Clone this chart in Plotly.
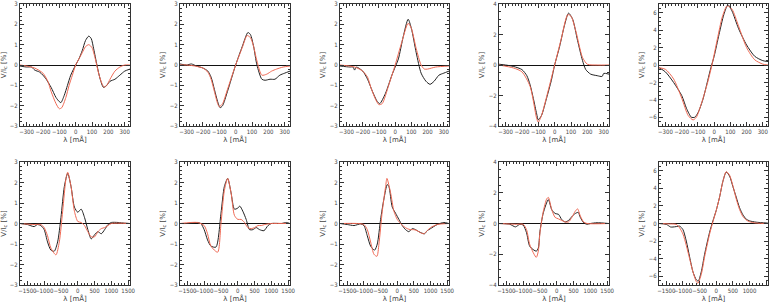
import plotly.graph_objects as go

# ---------------- data ----------------
# Row 1 (x in mA, range about +-335)
p1_obs_x = [-340,-300,-270,-250,-220,-200,-180,-150,-120,-100,-90,-70,-50,-30,0,20,40,60,80,95,110,130,150,170,190,210,240,270,300,332]
p1_obs_y = [-0.05,-0.1,-0.1,-0.25,-0.35,-0.5,-0.7,-1.1,-1.6,-1.8,-1.85,-1.5,-1.0,-0.5,0.0,0.3,0.7,1.2,1.42,1.3,0.8,0.0,-0.7,-1.1,-1.0,-0.8,-0.7,-0.5,-0.3,-0.2]
p1_mod_x = [-340,-300,-250,-200,-170,-150,-120,-100,-85,-60,-40,-20,0,20,40,60,80,100,120,140,160,175,190,210,240,270,300,332]
p1_mod_y = [0.0,-0.05,-0.15,-0.4,-0.8,-1.3,-1.9,-2.15,-2.1,-1.6,-1.0,-0.5,0.0,0.3,0.6,0.9,1.0,0.85,0.3,-0.4,-0.9,-1.1,-1.0,-0.7,-0.3,-0.1,0.0,0.0]

p2_obs_x = [-340,-300,-270,-240,-200,-170,-150,-130,-110,-95,-80,-50,0,40,75,90,110,130,160,180,210,240,270,300,332]
p2_obs_y = [0.05,0.0,0.05,-0.05,-0.15,-0.3,-0.6,-1.2,-1.8,-2.1,-2.0,-1.3,0.0,0.9,1.6,1.5,0.9,0.0,-0.7,-0.75,-0.7,-0.7,-0.5,-0.4,-0.3]
p2_mod_x = [-340,-300,-250,-200,-170,-150,-130,-110,-100,-80,-50,0,40,70,90,110,130,160,190,220,250,290,332]
p2_mod_y = [0.0,0.0,-0.05,-0.15,-0.35,-0.7,-1.3,-1.9,-2.05,-1.9,-1.2,0.0,0.85,1.45,1.35,0.9,0.2,-0.5,-0.45,-0.3,-0.2,-0.1,-0.05]

p3_obs_x = [-340,-280,-260,-250,-240,-200,-170,-140,-110,-95,-60,-20,0,20,50,80,100,130,160,190,215,240,270,300,332]
p3_obs_y = [-0.05,-0.1,-0.1,-0.25,-0.1,-0.3,-0.7,-1.3,-1.8,-1.9,-1.4,-0.5,-0.1,0.3,1.4,2.25,1.8,0.6,-0.4,-0.8,-0.95,-0.8,-0.5,-0.4,-0.3]
p3_mod_x = [-340,-250,-200,-170,-150,-120,-100,-80,-40,0,40,80,100,130,160,180,200,250,332]
p3_mod_y = [0.0,-0.1,-0.3,-0.6,-1.1,-1.7,-1.95,-1.9,-1.0,0.0,1.1,2.05,1.8,0.8,0.0,-0.2,-0.2,-0.1,-0.05]

p4_obs_x = [-340,-300,-250,-200,-170,-150,-130,-110,-100,-80,-50,-20,0,30,60,85,110,140,170,190,220,260,290,300,332]
p4_obs_y = [0.05,0.0,-0.1,-0.3,-0.7,-1.3,-2.2,-3.2,-3.6,-3.3,-2.2,-1.0,0.0,1.2,2.6,3.4,3.0,1.6,0.3,-0.3,-0.6,-0.7,-0.75,-0.55,-0.6]
p4_mod_x = [-340,-250,-200,-150,-110,-100,-80,-40,0,40,80,100,130,170,200,260,332]
p4_mod_y = [0.0,-0.2,-0.45,-1.4,-3.5,-3.75,-3.3,-1.7,0.0,1.7,3.3,3.2,2.2,0.5,0.05,0.0,0.0]

p5_obs_x = [-340,-300,-250,-200,-170,-140,-120,-100,-70,-40,-20,0,30,60,85,110,150,200,250,300,332]
p5_obs_y = [-0.3,-0.8,-2.0,-3.5,-5.0,-6.0,-6.0,-5.5,-4.0,-1.8,-0.3,1.0,3.5,5.8,6.9,6.2,4.2,2.3,1.0,0.5,0.4]
p5_mod_x = [-340,-300,-250,-200,-160,-130,-110,-80,-40,-10,20,50,80,110,150,200,250,300,332]
p5_mod_y = [-0.3,-0.5,-1.6,-3.8,-5.8,-6.3,-6.0,-4.5,-2.0,0.3,3.0,5.5,6.8,6.4,4.5,2.0,0.6,0.1,0.0]

# Row 2 (x in mA, range about -1720..1550)
p6_obs_x = [-1720,-1500,-1300,-1200,-1100,-1000,-900,-800,-700,-600,-500,-400,-300,-200,-100,0,100,200,300,400,500,600,700,800,900,1000,1200,1300,1550]
p6_obs_y = [0.0,-0.05,-0.15,-0.05,-0.1,-0.3,-0.9,-1.3,-1.35,-0.9,0.3,1.8,2.45,1.8,0.8,0.55,0.7,0.3,-0.3,-0.75,-0.55,-0.4,-0.5,-0.3,-0.05,0.05,0.05,0.03,0.0]
p6_mod_x = [-1720,-1300,-1100,-1000,-900,-800,-650,-550,-450,-350,-300,-200,-100,0,100,200,300,400,500,600,700,800,900,1000,1550]
p6_mod_y = [0.0,-0.05,-0.05,-0.2,-0.6,-1.2,-1.53,-0.9,0.6,2.2,2.5,1.8,0.6,0.1,0.05,-0.1,-0.4,-0.65,-0.65,-0.4,-0.25,-0.2,-0.1,0.0,0.0]

p7_obs_x = [-1720,-1500,-1200,-1100,-1000,-900,-800,-650,-500,-400,-300,-200,-100,0,60,150,250,350,450,550,650,780,900,1000,1300,1450,1550]
p7_obs_y = [0.0,0.0,0.05,0.0,-0.3,-0.8,-1.1,-1.15,0.5,1.8,2.2,1.5,0.7,0.75,0.85,0.6,0.2,-0.3,-0.3,-0.2,-0.3,-0.35,-0.1,0.0,0.0,0.05,0.0]
p7_mod_x = [-1720,-1200,-1000,-900,-800,-600,-500,-400,-300,-200,-100,0,100,200,300,400,500,600,700,800,1000,1550]
p7_mod_y = [0.0,0.05,-0.1,-0.5,-1.1,-1.4,0.0,1.6,2.2,1.5,0.4,0.2,0.2,0.05,-0.2,-0.25,-0.2,-0.1,-0.1,-0.05,0.0,0.0]

p8_obs_x = [-1720,-1500,-1300,-1100,-1000,-900,-800,-680,-600,-500,-400,-300,-250,-150,-50,50,150,250,350,450,550,650,820,900,1000,1200,1400,1550]
p8_obs_y = [0.0,-0.05,-0.1,-0.02,-0.1,-0.6,-1.1,-1.3,-1.0,0.2,1.2,1.9,1.8,0.8,0.5,0.2,-0.1,-0.3,-0.4,-0.25,-0.3,-0.4,-0.5,-0.35,-0.25,-0.05,0.05,0.0]
p8_mod_x = [-1720,-1200,-1000,-900,-800,-700,-610,-550,-450,-350,-310,-200,-100,0,100,200,300,400,500,600,700,800,900,1000,1200,1550]
p8_mod_y = [0.0,0.0,-0.05,-0.3,-0.9,-1.5,-1.6,-1.0,0.6,1.8,2.2,1.5,0.6,0.2,0.0,-0.15,-0.25,-0.3,-0.3,-0.35,-0.45,-0.5,-0.35,-0.2,-0.05,0.0]

p9_obs_x = [-1720,-1400,-1230,-1100,-1000,-900,-800,-610,-550,-500,-400,-250,-150,-50,50,150,250,350,450,550,640,700,800,900,1000,1200,1550]
p9_obs_y = [0.0,-0.05,-0.22,-0.05,-0.1,-0.6,-1.5,-1.8,-1.6,-0.5,0.7,1.55,0.9,0.65,0.6,0.25,0.1,0.2,0.45,0.65,0.72,0.4,0.05,-0.05,0.0,0.05,0.0]
p9_mod_x = [-1720,-1200,-1000,-900,-800,-610,-550,-500,-400,-300,-250,-150,-50,50,150,250,350,450,550,620,700,800,900,1550]
p9_mod_y = [0.0,-0.05,-0.05,-0.4,-1.4,-2.2,-1.8,-0.6,0.8,1.6,1.7,0.9,0.4,0.3,0.2,0.1,0.1,0.4,0.8,0.95,0.5,0.1,0.0,0.0]

p10_obs_x = [-1720,-1500,-1370,-1300,-1200,-1100,-1000,-900,-800,-700,-600,-540,-450,-350,-200,-100,0,100,200,300,400,500,600,700,800,900,1000,1200,1550]
p10_obs_y = [0.0,-0.1,-0.4,-0.4,-0.35,-0.3,-0.7,-2.0,-3.8,-5.5,-6.4,-6.55,-5.5,-3.5,-1.0,0.3,1.5,3.0,4.8,5.85,5.4,4.2,3.0,1.8,1.0,0.5,0.3,0.15,0.05]
p10_mod_x = [-1720,-1400,-1200,-1100,-1000,-900,-800,-700,-600,-550,-450,-350,-200,-100,0,100,200,300,400,500,600,700,800,900,1000,1200,1550]
p10_mod_y = [0.0,-0.05,-0.1,-0.5,-1.2,-2.5,-4.0,-5.5,-6.6,-6.8,-5.8,-3.8,-1.2,0.2,1.5,3.0,4.8,5.9,5.5,4.3,2.8,1.6,0.8,0.4,0.2,0.05,0.0]

obs_x = [p1_obs_x,p2_obs_x,p3_obs_x,p4_obs_x,p5_obs_x,p6_obs_x,p7_obs_x,p8_obs_x,p9_obs_x,p10_obs_x]
obs_y = [p1_obs_y,p2_obs_y,p3_obs_y,p4_obs_y,p5_obs_y,p6_obs_y,p7_obs_y,p8_obs_y,p9_obs_y,p10_obs_y]
mod_x = [p1_mod_x,p2_mod_x,p3_mod_x,p4_mod_x,p5_mod_x,p6_mod_x,p7_mod_x,p8_mod_x,p9_mod_x,p10_mod_x]
mod_y = [p1_mod_y,p2_mod_y,p3_mod_y,p4_mod_y,p5_mod_y,p6_mod_y,p7_mod_y,p8_mod_y,p9_mod_y,p10_mod_y]

y_ranges = [[-3,3],[-3,3],[-3,3],[-4,4],[-7,7],[-3,3],[-3,3],[-3,3],[-4,4],[-7,7]]
y_dtick = [1,1,1,2,2,1,1,1,2,2]
y_minor = [0.2,0.2,0.2,0.5,0.5,0.2,0.2,0.2,0.5,0.5]
x_range_top = [-340,332]
x_range_bot = [-1720,1555]
x_ticks_top = [-300,-200,-100,0,100,200,300]
x_ticks_bot = [-1500,-1000,-500,0,500,1000,1500]

x_title = "λ [mÅ]"
y_title = "V/I<sub>c</sub> [%]"

# ---------------- layout ----------------
W, H = 771, 303
col_px = [(20,130),(180,290),(340,449),(499,609),(659,768)]
row_px = [(4,126),(162,285)]

fig = go.Figure()
tickfont = dict(family="Liberation Sans Narrow, DejaVu Sans Condensed, DejaVu Sans", size=6, color="#444")
titlefont = dict(family="DejaVu Sans", size=7, color="#444")

for i in range(10):
    r, c = divmod(i, 5)
    n = "" if i == 0 else str(i+1)
    xa, ya = "x"+n, "y"+n
    fig.add_trace(go.Scatter(x=obs_x[i], y=obs_y[i], mode="lines", xaxis=xa, yaxis=ya,
                             line=dict(color="#222222", width=1, shape="spline", smoothing=0.7),
                             showlegend=False, hoverinfo="skip"))
    fig.add_trace(go.Scatter(x=mod_x[i], y=mod_y[i], mode="lines", xaxis=xa, yaxis=ya,
                             line=dict(color="#f06a55", width=1, shape="spline", smoothing=0.7),
                             showlegend=False, hoverinfo="skip"))
    x0, x1 = col_px[c]
    t, b = row_px[r]
    top = r == 0
    fig.layout["xaxis"+n] = dict(
        domain=[x0/W, x1/W], anchor=ya, range=x_range_top if top else x_range_bot,
        tickvals=x_ticks_top if top else x_ticks_bot, ticks="inside", ticklen=4,
        tickangle=0, automargin=False,
        mirror="allticks", showline=True, linecolor="#333", linewidth=1,
        showgrid=False, zeroline=False, tickfont=tickfont,
        title=dict(text=x_title, font=titlefont, standoff=1),
        minor=dict(ticks="inside", ticklen=2, dtick=20 if top else 100, tickcolor="#333", showgrid=False),
        tickcolor="#333",
    )
    fig.layout["yaxis"+n] = dict(
        domain=[(H-b)/H, (H-t)/H], anchor=xa, range=y_ranges[i],
        dtick=y_dtick[i], tick0=0, ticks="inside", ticklen=4, automargin=False,
        mirror="allticks", showline=True, linecolor="#333", linewidth=1,
        showgrid=False, zeroline=True, zerolinecolor="#111", zerolinewidth=1,
        tickfont=tickfont, title=dict(text=y_title, font=titlefont, standoff=3),
        minor=dict(ticks="inside", ticklen=2, dtick=y_minor[i], tickcolor="#333", showgrid=False),
        tickcolor="#333",
    )

fig.update_layout(width=W, height=H, margin=dict(l=0, r=0, t=0, b=0, autoexpand=False),
                  paper_bgcolor="white", plot_bgcolor="white", hovermode=False)
fig.write_html("out.html", config={"displayModeBar": False, "staticPlot": True},
               post_script="document.body.style.margin='0';document.body.style.overflow='hidden';")
